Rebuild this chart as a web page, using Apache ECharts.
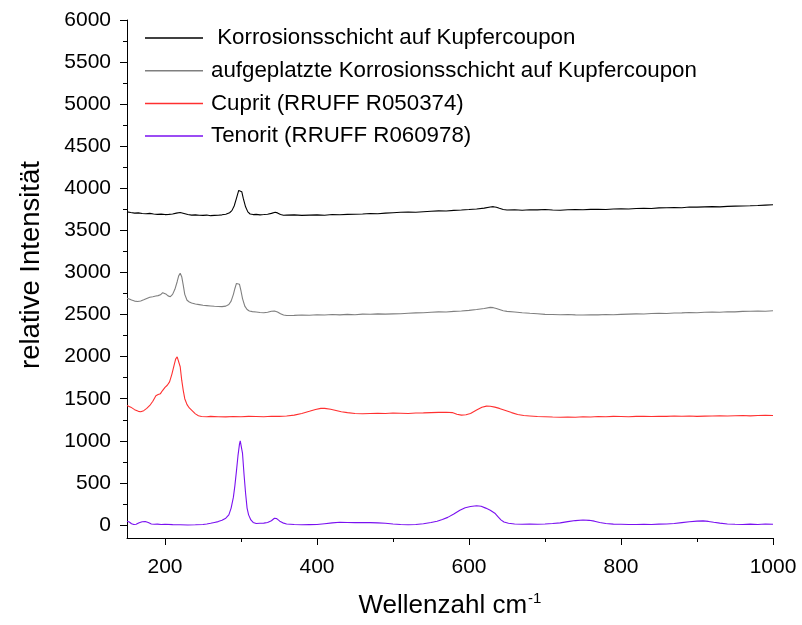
<!DOCTYPE html>
<html>
<head>
<meta charset="utf-8">
<script src="https://cdn.jsdelivr.net/npm/echarts@6/dist/echarts.min.js"></script>
<style>
html,body{margin:0;padding:0;background:#fff;}
#chart{width:802px;height:625px;}
</style>
</head>
<body>
<div id="chart"></div>
<script>
// ---- data (x = Wellenzahl, y = relative Intensität) ----
var seriesNames = [
  ' Korrosionsschicht auf Kupfercoupon',
  'aufgeplatzte Korrosionsschicht auf Kupfercoupon',
  'Cuprit (RRUFF R050374)',
  'Tenorit (RRUFF R060978)'
];
var xTicks = [200, 400, 600, 800, 1000];
var xMinorTicks = [300, 500, 700, 900];
var yTicks = [0, 500, 1000, 1500, 2000, 2500, 3000, 3500, 4000, 4500, 5000, 5500, 6000];
var yMinorTicks = [250, 750, 1250, 1750, 2250, 2750, 3250, 3750, 4250, 4750, 5250, 5750];

var korrosion = [
[150,3720],[155,3712],[160,3705],[165,3708],[170,3700],[175,3698],[180,3702],[185,3695],[190,3690],[195,3693],
[200,3688],[205,3690],[210,3695],[215,3705],[220,3712],[225,3700],[230,3688],[235,3682],[240,3685],[245,3680],
[250,3678],[255,3682],[260,3675],[265,3678],[270,3680],[275,3685],[280,3692],[285,3710],[288,3735],[291,3790],
[294,3880],[297,3975],[299,3995],[301,3960],[303,3880],[306,3780],[309,3720],[312,3695],[316,3688],[320,3690],
[325,3685],[330,3688],[335,3692],[340,3702],[345,3715],[348,3708],[352,3690],[356,3680],[360,3682],[370,3685],
[380,3678],[390,3682],[400,3685],[410,3680],[420,3688],[430,3686],[440,3690],[450,3692],[460,3695],[470,3700],
[480,3698],[490,3705],[500,3710],[510,3715],[520,3718],[530,3716],[540,3722],[550,3728],[560,3732],[570,3730],
[580,3738],[590,3742],[600,3748],[610,3755],[620,3765],[628,3778],[632,3782],[636,3775],[640,3762],[645,3748],
[650,3742],[660,3745],[670,3740],[680,3746],[690,3744],[700,3748],[710,3742],[720,3740],[730,3745],[740,3748],
[750,3746],[760,3750],[770,3752],[780,3748],[790,3755],[800,3758],[810,3755],[820,3760],[830,3762],[840,3760],
[850,3768],[860,3770],[870,3772],[880,3770],[890,3778],[900,3776],[910,3780],[920,3782],[930,3780],[940,3786],
[950,3788],[960,3790],[970,3792],[980,3795],[990,3800],[1000,3805]
];

var aufgeplatzt = [
[150,2695],[153,2685],[156,2672],[160,2660],[164,2655],[168,2662],[172,2675],[176,2690],[180,2705],[184,2712],
[188,2720],[191,2725],[194,2735],[197,2760],[199,2768],[201,2745],[204,2722],[207,2712],[210,2740],[213,2800],
[216,2890],[218,2960],[220,2990],[222,2950],[224,2850],[226,2740],[229,2670],[232,2650],[235,2638],[240,2625],
[245,2618],[250,2610],[255,2606],[260,2602],[265,2598],[270,2595],[275,2594],[280,2600],[284,2620],[287,2660],
[290,2740],[292,2810],[294,2870],[296,2885],[298,2860],[300,2780],[302,2690],[305,2600],[308,2560],[311,2542],
[315,2535],[320,2530],[325,2525],[330,2522],[335,2528],[340,2540],[344,2542],[348,2530],[352,2510],[356,2495],
[360,2488],[370,2490],[380,2495],[390,2492],[400,2498],[410,2495],[420,2500],[430,2496],[440,2502],[450,2498],
[460,2505],[470,2503],[480,2508],[490,2505],[500,2508],[510,2510],[520,2515],[530,2520],[540,2522],[550,2528],
[560,2532],[570,2530],[580,2538],[590,2542],[600,2550],[610,2560],[620,2572],[628,2585],[632,2582],[636,2572],
[640,2560],[645,2545],[650,2538],[660,2530],[670,2522],[680,2515],[690,2510],[700,2502],[710,2500],[720,2498],
[730,2500],[740,2496],[750,2495],[760,2498],[770,2496],[780,2500],[790,2498],[800,2502],[810,2505],[820,2508],
[830,2506],[840,2512],[850,2515],[860,2513],[870,2518],[880,2520],[890,2524],[900,2522],[910,2527],[920,2530],
[930,2528],[940,2534],[950,2532],[960,2538],[970,2540],[980,2542],[990,2540],[1000,2545]
];

var cuprit = [
[150,1420],[155,1400],[160,1370],[165,1350],[168,1345],[172,1358],[176,1385],[180,1420],[184,1470],[188,1535],
[191,1550],[194,1560],[197,1600],[200,1635],[203,1660],[206,1700],[209,1790],[212,1900],[214,1970],[216,1998],
[218,1980],[220,1880],[222,1720],[224,1600],[226,1500],[229,1430],[232,1390],[236,1355],[240,1320],[244,1298],
[248,1288],[255,1285],[260,1290],[270,1286],[280,1284],[290,1288],[300,1285],[310,1290],[320,1288],[330,1286],
[340,1292],[350,1290],[360,1295],[370,1305],[380,1325],[390,1350],[398,1372],[405,1385],[410,1385],[418,1375],
[425,1360],[432,1345],[440,1335],[450,1325],[460,1322],[470,1325],[480,1328],[490,1325],[500,1330],[510,1328],
[520,1325],[530,1330],[540,1332],[550,1335],[560,1338],[570,1340],[578,1335],[584,1315],[590,1305],[596,1310],
[602,1325],[610,1365],[617,1398],[623,1412],[628,1410],[634,1400],[640,1385],[648,1360],[656,1335],[664,1312],
[672,1300],[680,1295],[690,1288],[700,1285],[710,1282],[720,1280],[730,1282],[740,1280],[750,1285],[760,1282],
[770,1288],[780,1285],[790,1290],[800,1288],[810,1285],[820,1290],[830,1292],[840,1288],[850,1292],[860,1290],
[870,1295],[880,1292],[890,1295],[900,1290],[910,1293],[920,1295],[930,1298],[940,1295],[950,1298],[960,1300],
[970,1296],[980,1300],[990,1302],[1000,1300]
];

var tenorit = [
[150,45],[153,35],[156,15],[159,5],[162,8],[166,25],[170,38],[174,40],[178,28],[182,12],
[186,8],[190,10],[195,6],[200,8],[210,4],[220,2],[230,0],[240,2],[250,5],[255,12],
[260,20],[265,30],[270,40],[275,55],[280,80],[284,120],[287,200],[290,330],[292,470],[294,640],
[296,820],[298,960],[299,1000],[300,985],[302,850],[304,600],[306,380],[308,200],[310,120],[313,60],
[316,30],[320,18],[325,20],[330,22],[335,30],[340,50],[344,80],[347,75],[351,45],[355,25],
[360,12],[370,5],[380,2],[390,4],[400,5],[410,15],[420,25],[430,32],[440,30],[450,28],
[460,30],[470,28],[480,25],[490,20],[500,12],[510,5],[520,3],[530,5],[540,15],[550,30],
[558,45],[565,65],[572,90],[580,130],[588,175],[595,205],[602,220],[610,228],[616,222],[622,200],
[628,175],[634,140],[638,100],[642,60],[646,35],[652,20],[660,12],[670,8],[680,10],[690,8],
[700,12],[710,18],[720,25],[730,40],[740,52],[750,58],[758,55],[765,45],[772,30],[780,18],
[790,10],[800,8],[810,6],[820,5],[830,8],[840,5],[850,10],[860,12],[870,18],[880,28],
[890,38],[900,45],[908,48],[915,42],[922,32],[930,22],[940,12],[950,8],[960,5],[970,10],
[980,6],[990,12],[1000,8]
];

var seriesData = [korrosion, aufgeplatzt, cuprit, tenorit];
var seriesColors = ['#000000', '#7f7f7f', '#ff3030', '#7a10f0'];

// ---- chart ----
var FONT = 'Liberation Sans, Arial, Helvetica, sans-serif';
var chart = echarts.init(document.getElementById('chart'), null, {renderer: 'canvas'});

var X_MIN = 150, X_MAX = 1000, Y_MIN = -155, Y_MAX = 6000;
function plain(v) { return String(v); }

var option = {
  animation: false,
  backgroundColor: '#ffffff',
  textStyle: {fontFamily: FONT},
  grid: {left: 127, right: 29, top: 20, bottom: 84, containLabel: false},
  legend: {
    orient: 'vertical',
    left: 145,
    top: 27,
    padding: 0,
    icon: 'rect',
    itemWidth: 58,
    itemHeight: 1.5,
    itemGap: 10.7,
    data: seriesNames,
    textStyle: {fontFamily: FONT, fontSize: 22.3, color: '#000', lineHeight: 22, padding: [0, 0, 0, 3]}
  },
  xAxis: [{
    type: 'value',
    min: X_MIN, max: X_MAX,
    name: '{a|Wellenzahl cm}{b|-1}',
    nameLocation: 'middle',
    nameGap: 53,
    nameTextStyle: {
      rich: {
        a: {fontFamily: FONT, fontSize: 26, color: '#000', lineHeight: 30},
        b: {fontFamily: FONT, fontSize: 15, color: '#000', verticalAlign: 'top', lineHeight: 30, padding: [0, 0, 14, 1]}
      }
    },
    splitLine: {show: false},
    axisLine: {show: true, onZero: false, lineStyle: {color: '#000', width: 1}},
    axisTick: {show: true, inside: false, length: 7, customValues: xTicks, lineStyle: {color: '#000'}},
    axisLabel: {show: true, customValues: xTicks, formatter: plain, margin: 19, fontFamily: FONT, fontSize: 21, color: '#000'}
  }, {
    type: 'value',
    min: X_MIN, max: X_MAX,
    position: 'bottom',
    splitLine: {show: false},
    axisLine: {show: false, onZero: false},
    axisTick: {show: true, inside: false, length: 4, customValues: xMinorTicks, lineStyle: {color: '#000'}},
    axisLabel: {show: false}
  }],
  yAxis: [{
    type: 'value',
    min: Y_MIN, max: Y_MAX,
    name: 'relative Intensität',
    nameLocation: 'middle',
    nameGap: 82,
    nameTextStyle: {fontFamily: FONT, fontSize: 27.5, color: '#000', padding: [0, 0, 0, 28]},
    splitLine: {show: false},
    axisLine: {show: true, onZero: false, lineStyle: {color: '#000', width: 1}},
    axisTick: {show: true, inside: false, length: 7, customValues: yTicks, lineStyle: {color: '#000'}},
    axisLabel: {show: true, customValues: yTicks, formatter: plain, margin: 16, fontFamily: FONT, fontSize: 21, color: '#000'}
  }, {
    type: 'value',
    min: Y_MIN, max: Y_MAX,
    position: 'left',
    splitLine: {show: false},
    axisLine: {show: false, onZero: false},
    axisTick: {show: true, inside: false, length: 4, customValues: yMinorTicks, lineStyle: {color: '#000'}},
    axisLabel: {show: false}
  }],
  series: seriesNames.map(function (name, i) {
    return {
      name: name,
      type: 'line',
      xAxisIndex: 0,
      yAxisIndex: 0,
      data: seriesData[i],
      symbol: 'none',
      smooth: false,
      color: seriesColors[i],
      lineStyle: {color: seriesColors[i], width: 1.1}
    };
  })
};
chart.setOption(option);
</script>
</body>
</html>
